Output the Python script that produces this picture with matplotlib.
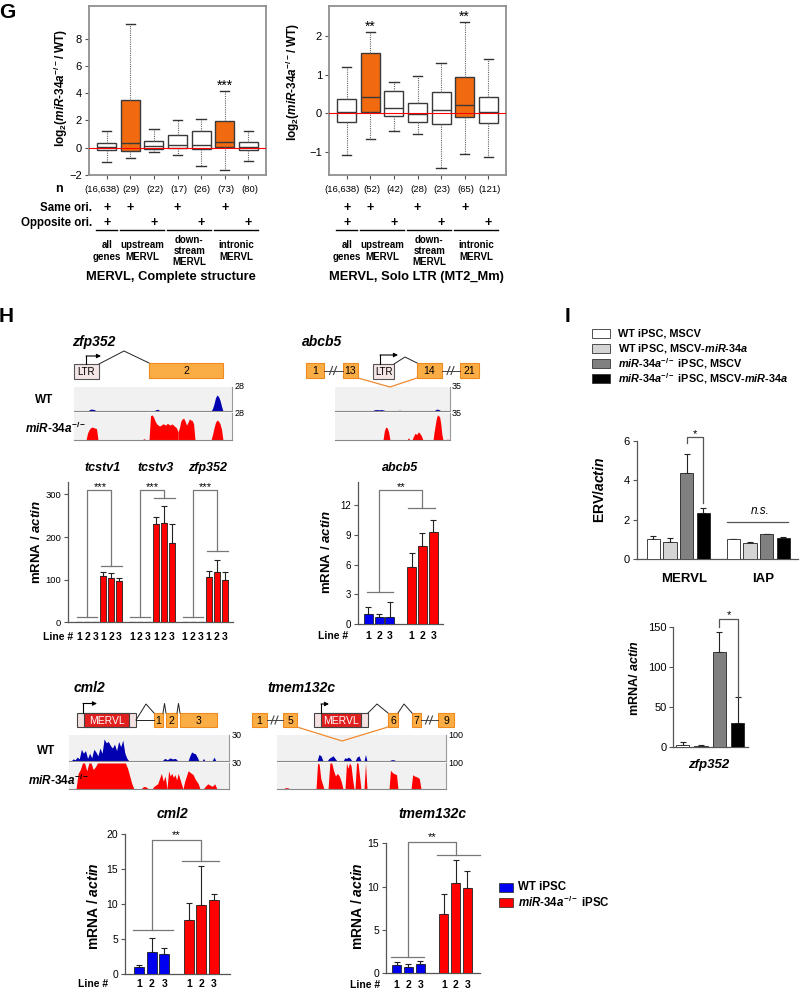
import numpy as np
import matplotlib
matplotlib.use('Agg')
import matplotlib.pyplot as plt
from matplotlib.patches import Rectangle
from matplotlib.transforms import blended_transform_factory as blend

plt.rcParams['font.family'] = ['Liberation Sans', 'DejaVu Sans']
plt.rcParams['mathtext.fontset'] = 'custom'
plt.rcParams['mathtext.rm'] = 'Liberation Sans:bold'
plt.rcParams['mathtext.it'] = 'Liberation Sans:italic:bold'
plt.rcParams['mathtext.bf'] = 'Liberation Sans:bold'

W, H = 800, 991
ORANGE = '#f26a10'
RED = '#ff0000'
BLUE = '#0000f0'
EXON = '#fbad45'
EXON_EDGE = '#ee8a20'
KO = r'$\mathit{miR}$-$\mathit{34a}^{-/-}$'

# ---------------- panel G : box plots ----------------
box_pos = [1, 2, 3, 4, 5, 6, 7]
box_hilite = [0, 1, 0, 0, 0, 1, 0]
same_ori = [1, 1, 0, 1, 0, 1, 0]
opp_ori = [1, 0, 1, 0, 1, 0, 1]
box_groups = [(1, 1, 'all\ngenes'), (2, 3, 'upstream\nMERVL'),
              (4, 5, 'down-\nstream\nMERVL'), (6, 7, 'intronic\nMERVL')]

full_n = ['(16,638)', '(29)', '(22)', '(17)', '(26)', '(73)', '(80)']
full_lo = [-1.08, -0.76, -0.3, -0.55, -1.37, -1.6, -1.0]
full_q1 = [-0.2, -0.27, -0.1, -0.05, -0.1, 0.07, -0.15]
full_med = [0.05, 0.35, 0.1, 0.2, 0.2, 0.4, 0.05]
full_q3 = [0.35, 3.5, 0.47, 0.9, 1.2, 1.95, 0.4]
full_hi = [1.2, 9.1, 1.4, 2.0, 2.1, 4.15, 1.25]
full_stars = [(6, '***')]

solo_n = ['(16,638)', '(52)', '(42)', '(28)', '(23)', '(65)', '(121)']
solo_lo = [-1.07, -0.67, -0.45, -0.52, -1.42, -1.04, -1.13]
solo_q1 = [-0.22, 0.04, -0.06, -0.21, -0.28, -0.09, -0.26]
solo_med = [0.03, 0.41, 0.15, -0.02, 0.08, 0.21, 0.03]
solo_q3 = [0.36, 1.55, 0.57, 0.27, 0.55, 0.93, 0.43]
solo_hi = [1.2, 2.09, 0.8, 0.96, 1.31, 2.35, 1.41]
solo_stars = [(2, '**'), (6, '**')]

# ---------------- panel H : qPCR bars ----------------
line_ids = ['1', '2', '3', '1', '2', '3']
tc_genes = ['tcstv1', 'tcstv3', 'zfp352']
tc_wt = [[1.5, 1.5, 1.5], [1.5, 1.5, 1.5], [1.5, 1.5, 1.5]]
tc_ko = [[108, 103, 96], [230, 234, 187], [106, 117, 100]]
tc_ko_err = [[10, 13, 9], [17, 38, 43], [15, 30, 17]]
tc_lo, tc_hi, tc_top = 13, [133, 292, 167], 310

ab_wt, ab_wt_err = [1.0, 0.75, 0.7], [0.75, 0.3, 1.5]
ab_ko, ab_ko_err = [5.8, 7.85, 9.3], [1.35, 1.3, 1.15]
ab_lo, ab_hi, ab_top = 3.3, 11.7, 13.5

cm_wt, cm_wt_err = [1.05, 3.14, 2.8], [0.25, 1.95, 0.9]
cm_ko, cm_ko_err = [7.7, 9.86, 10.6], [2.4, 5.5, 0.8]
cm_lo, cm_hi, cm_top = 6.3, 16.1, 19.1

tm_wt, tm_wt_err = [0.96, 0.7, 1.07], [0.3, 0.37, 0.38]
tm_ko, tm_ko_err = [6.9, 10.45, 9.9], [2.2, 2.65, 1.9]
tm_lo, tm_hi, tm_top = 1.85, 13.7, 15.1

# read-coverage islands: (start, end, relative heights)
zfp_wt_cov = [(88, 96, [0, .06, .08, .07, .06, 0]), (154, 160, [0, .06, .07, 0]),
              (211, 223, [0, .1, .3, .55, .67, .6, .45, .2, 0])]
zfp_ko_cov = [(86, 98, [0, .25, .38, .45, .48, .46, .44, .42, 0]), (142, 146, [0, .05, 0]),
              (149, 178, [0, .9, .93, .85, .7, .6, .55, .52, .55, .6, .58, .55, .62, .58,
                          .55, .6, .55, .5, .45, .3]),
              (178, 195, [.3, .45, .7, .78, .81, .7, .55, .65, .78, .74, .72, .6, 0]),
              (211, 223, [0, .2, .45, .65, .74, .7, .6, .4, 0])]
ab_wt_cov = [(372, 386, [0, .05, .06, .05, .06, .04, 0]), (398, 401, [0, .04, 0]),
             (434, 441, [0, .06, .08, .05, 0])]
ab_ko_cov = [(383, 390, [0, .35, .48, .45, .3, 0]), (407, 410, [0, .08, 0]),
             (412, 423, [0, .15, .25, .2, .3, .25, .15, 0]),
             (433, 443, [0, .3, .55, .8, .93, .9, .85, .6, .2, 0]), (446, 449, [0, .04, 0])]
cm_wt_cov = [(71, 129, [0, .08, .05, .15, .08, .45, .3, .4, .1, .3, .12, .45, .35, .2, .5,
                        .3, .85, .7, .75, .6, .5, .65, .4, .75, .55, .8, .3, .1, 0]),
             (162, 178, [0, .1, .05, .12, .08, .1, 0]), (188, 199, [0, .2, .35, .3, .28, .15, 0]),
             (202, 205, [0, .1, 0]), (212, 216, [0, .15, 0])]
cm_ko_cov = [(76, 134, [0, .6, .75, 1, 1, .7, 1, 1, .75, .85, 1, 1, 1, 1, 1, 1, 1, 1, 1, 1,
                        1, 1, 1, 1, .8, .5, .2, 0]),
             (141, 149, [0, .08, .1, .05, 0]), (152, 167, [0, .1, .15, .2, .4, .6, .3, .5, 0]),
             (167, 183, [0, .7, .5, .6, .45, .55, .35, .6, .4, .2, 0]),
             (183, 200, [0, .3, .5, .7, .65, .6, .55, .4, .3, .2, 0]),
             (203, 217, [0, .1, .2, .15, .1, .2, 0])]
tm_wt_cov = [(317, 323, [0, .25, .2, 0]), (327, 337, [0, .1, .15, .2, .1, 0]),
             (343, 352, [0, .12, .1, .15, .1, 0]), (355, 361, [0, .15, .2, 0]),
             (364, 367, [0, .25, 0]), (389, 396, [0, .05, .05, 0])]
tm_ko_cov = [(283, 290, [0, .05, .05, 0]), (316, 324, [0, 1, .95, .4, .2, 0]),
             (328, 343, [0, 1, 1, .7, .5, .6, .5, .3, 0]), (345, 354, [0, 1, .8, 1, .9, .4, 0]),
             (355, 361, [0, 1, 1, .5, 0]), (364, 367, [0, 1, 0]),
             (389, 398, [0, .72, .65, .6, .58, .55, 0]), (411, 421, [0, .55, .5, .48, .45, .4, 0])]

# ---------------- panel I ----------------
i_labels = ['WT iPSC, MSCV', r'WT iPSC, MSCV-$\mathit{miR}$-$\mathit{34a}$',
            KO + ' iPSC, MSCV', KO + r' iPSC, MSCV-$\mathit{miR}$-$\mathit{34a}$']
i_colors = ['white', '#d4d4d4', '#808080', 'black']
erv_names = ['MERVL', 'IAP']
erv_vals = [[1.0, 0.88, 4.35, 2.33], [1.0, 0.8, 1.25, 1.05]]
erv_err = [[0.18, 0.2, 0.97, 0.25], [0.03, 0.04, 0.04, 0.08]]
zi_vals = [2, 1, 119, 30]
zi_err = [4, 1, 25, 32]

fig = plt.figure(figsize=(W / 100, H / 100), dpi=100)
ov = fig.add_axes([0, 0, 1, 1], zorder=10)
ov.set_xlim(0, W)
ov.set_ylim(H, 0)
ov.axis('off')


def px_axes(x0, y0, x1, y1):
    return fig.add_axes([x0 / W, 1 - y1 / H, (x1 - x0) / W, (y1 - y0) / H])


def star(ax, x, y, txt, off=2, fs=9):
    ax.annotate(txt, (x, y), xytext=(0, off), textcoords='offset points',
                ha='center', va='center', fontsize=fs, annotation_clip=False)


for lx, ly, lt in [(7, 12, 'G'), (6, 317, 'H'), (567, 316, 'I')]:
    ov.text(lx, ly, lt, fontsize=15, fontweight='bold', ha='center', va='center')


# ---------- G ----------
def box_panel(x0, x1, lo, q1, med, q3, hi, ylim, yticks, nlab, stars):
    ax = px_axes(x0, 6, x1, 175)
    stats = [dict(whislo=a, q1=b, med=c, q3=d, whishi=e)
             for a, b, c, d, e in zip(lo, q1, med, q3, hi)]
    art = ax.bxp(stats, positions=box_pos, widths=0.8, showfliers=False, patch_artist=True,
                 boxprops=dict(edgecolor='#3a3a3a', linewidth=1.0),
                 medianprops=dict(color='#3a3a3a', linewidth=1.0),
                 whiskerprops=dict(color='#666', linestyle=(0, (1, 1)), linewidth=0.8),
                 capprops=dict(color='#333', linewidth=1.0))
    for b, h in zip(art['boxes'], box_hilite):
        b.set_facecolor(ORANGE if h else 'white')
    ax.axhline(0, color='red', lw=0.8, zorder=5)
    ax.set_xlim(0.25, 7.75)
    ax.set_ylim(*ylim)
    ax.set_yticks(yticks)
    ax.set_xticks(box_pos)
    ax.set_xticklabels([])
    ax.tick_params(length=3, width=0.8, color='#555', labelsize=8, pad=2)
    for s in ax.spines.values():
        s.set_color('#909090')
        s.set_linewidth(1.3)
    for p, t in stars:
        star(ax, p, hi[p - 1], t, off=4, fs=10)
    tr = blend(ax.transData, ov.transData)
    for k, (p, t) in enumerate(zip(box_pos, nlab)):
        if k == 0:
            ov.text(p + 0.55, 189, t, transform=tr, ha='right', va='center', fontsize=6.8)
        else:
            ov.text(p + 0.05, 189, t, transform=tr, ha='center', va='center', fontsize=6.8)
    for p, s, o in zip(box_pos, same_ori, opp_ori):
        if s:
            ov.text(p, 208, '+', transform=tr, ha='center', va='center', fontsize=9, fontweight='bold')
        if o:
            ov.text(p, 223, '+', transform=tr, ha='center', va='center', fontsize=9, fontweight='bold')
    for a, b, lab in box_groups:
        ov.plot([a - 0.45, b + 0.42], [229.5, 229.5], transform=tr, color='k', lw=1)
        ov.text((a + b) / 2, 251, lab, transform=tr, ha='center', va='center',
                fontsize=7, fontweight='bold', linespacing=1.15)
    return ax


box_panel(89, 266, full_lo, full_q1, full_med, full_q3, full_hi, (-2, 10.4),
          [-2, 0, 2, 4, 6, 8], full_n, full_stars)
box_panel(329, 506, solo_lo, solo_q1, solo_med, solo_q3, solo_hi, (-1.59, 2.77),
          [-1, 0, 1, 2], solo_n, solo_stars)
glab = r'log$_2$($\mathit{miR}$-$\mathit{34a}^{-/-}$/ WT)'
ov.text(61, 88, glab, rotation=90, ha='center', va='center', fontsize=8.5, fontweight='bold')
ov.text(293, 82, glab, rotation=90, ha='center', va='center', fontsize=8.5, fontweight='bold')
ov.text(59, 189, 'n', ha='center', va='center', fontsize=9, fontweight='bold')
ov.text(92, 208, 'Same ori.', ha='right', va='center', fontsize=8.3, fontweight='bold')
ov.text(92, 223, 'Opposite ori.', ha='right', va='center', fontsize=8.3, fontweight='bold')
ov.text(171, 277, 'MERVL, Complete structure', ha='center', va='center', fontsize=9.3, fontweight='bold')
ov.text(416, 277, 'MERVL, Solo LTR (MT2_Mm)', ha='center', va='center', fontsize=9.3, fontweight='bold')


# ---------- H : gene diagrams ----------
def exon(x0, x1, y0, y1, label):
    ov.add_patch(Rectangle((x0, y0), x1 - x0, y1 - y0, fc=EXON, ec=EXON_EDGE, lw=0.8))
    ov.text((x0 + x1) / 2, (y0 + y1) / 2 + 0.5, label, ha='center', va='center', fontsize=7.5)


def ltr(x0, x1, y0, y1):
    ov.add_patch(Rectangle((x0, y0), x1 - x0, y1 - y0, fc='#f4e6e6', ec='#555', lw=0.8))
    ov.text((x0 + x1) / 2, (y0 + y1) / 2 + 0.5, 'LTR', ha='center', va='center', fontsize=7)


def mervl(x0, x1, xi0, xi1, y0, y1):
    ov.add_patch(Rectangle((x0, y0), x1 - x0, y1 - y0, fc='#f4e2e2', ec='#444', lw=0.8))
    ov.add_patch(Rectangle((xi0, y0), xi1 - xi0, y1 - y0, fc='#e01f1f', ec='#444', lw=0.8))
    ov.text((xi0 + xi1) / 2, (y0 + y1) / 2 + 0.5, 'MERVL', ha='center', va='center',
            fontsize=7.5, color='white')


def tss(x, ybase, ytop, xend):
    ov.plot([x, x], [ybase, ytop], color='k', lw=0.8)
    ov.annotate('', xy=(xend, ytop), xytext=(x, ytop),
                arrowprops=dict(arrowstyle='-|>', lw=0.8, color='k', mutation_scale=6,
                                shrinkA=0, shrinkB=0))


def path(pts, color='#222', lw=0.7):
    ov.plot([p[0] for p in pts], [p[1] for p in pts], color=color, lw=lw)


def skip(x0, x1, y):
    ov.plot([x0, x1], [y, y], color='#444', lw=0.7)
    xm = (x0 + x1) / 2
    for dx in (-2.5, 1.5):
        ov.plot([xm + dx - 1.5, xm + dx + 1.5], [y + 4, y - 4], color='#444', lw=0.8)


def track(x0, x1, y0, y1, islands, color, scale):
    ax = px_axes(x0, y0, x1, y1)
    ax.set_facecolor('#f1f1f1')
    for a, b, h in islands:
        ax.fill_between(np.linspace(a, b, len(h)), 0, h, color=color, lw=0)
    ax.set_xlim(x0, x1)
    ax.set_ylim(0, 1)
    ax.set_xticks([])
    ax.set_yticks([])
    ax.spines['top'].set_visible(False)
    ax.spines['left'].set_visible(False)
    ax.spines['right'].set_color('#999')
    ax.spines['bottom'].set_color('#888')
    ax.text(1.015, 1, scale, transform=ax.transAxes, fontsize=6.5, ha='left', va='center')


def track_labels(y_wt, y_ko, x_wt, x_ko):
    ov.text(x_wt, y_wt, 'WT', ha='left', va='center', fontsize=8.5, fontweight='bold')
    ov.text(x_ko, y_ko, KO, ha='left', va='center', fontsize=8.5, fontweight='bold')


def gene_title(x, y, t, fs=10):
    ov.text(x, y, t, ha='left', va='center', fontsize=fs, fontweight='bold', style='italic')


# zfp352
gene_title(72, 342, 'zfp352')
ltr(74, 99, 364, 379)
tss(86, 364, 356, 101)
path([(99, 364), (124, 351), (149, 363)])
exon(149, 223, 363, 378, '2')
track(74, 232, 387, 411, zfp_wt_cov, '#0000b0', '28')
track(74, 232, 413, 440, zfp_ko_cov, RED, '28')
track_labels(400, 428, 35, 25)

# abcb5
gene_title(302, 342, 'abcb5')
for a, b, t in [(306, 324, '1'), (343, 358, '13'), (417, 442, '14'), (460, 479, '21')]:
    exon(a, b, 363, 378, t)
skip(324, 343, 370.5)
skip(442, 460, 370.5)
ltr(373, 394, 364, 379)
tss(380, 364, 355, 398)
path([(394, 364), (405, 357), (417, 363)])
path([(358, 378), (390, 387), (417, 378)], color='#f08a30', lw=0.9)
track(335, 450, 387, 411, ab_wt_cov, '#0000b0', '35')
track(335, 450, 413, 440, ab_ko_cov, RED, '35')

# cml2
gene_title(74, 688, 'cml2')
mervl(77, 136, 84, 129, 713, 727)
tss(83, 713, 703.5, 97)
path([(136, 720), (146, 704), (154, 713)])
path([(136, 720), (154, 720)])
for a, b, t in [(154, 163, '1'), (166, 177, '2'), (180, 217, '3')]:
    exon(a, b, 713, 727, t)
path([(163, 713), (164.5, 703.5), (166, 713)])
path([(177, 713), (178.5, 703.5), (180, 713)])
track(69, 229, 735, 761, cm_wt_cov, '#0000b0', '30')
track(69, 229, 763, 789, cm_ko_cov, RED, '30')
track_labels(751, 780, 37, 28)

# tmem132c
gene_title(267, 688, 'tmem132c')
for a, b, t in [(252, 267, '1'), (283, 297, '5'), (388, 398, '6'), (412, 421, '7'), (438, 454, '9')]:
    exon(a, b, 713, 727, t)
skip(267, 283, 720)
skip(421, 438, 720)
mervl(314, 368, 321, 361, 713, 727)
tss(321, 713, 704, 329)
path([(368, 713), (377, 704), (388, 713)])
path([(398, 713), (404, 704), (412, 713)])
path([(297, 727), (342, 741), (388, 727)], color='#f08a30', lw=0.9)
track(277, 446, 735, 761, tm_wt_cov, '#0000b0', '100')
track(277, 446, 763, 789, tm_ko_cov, RED, '100')


# ---------- bar helpers ----------
def style_bar_axes(ax, ylim, yticks, xlim, fs=7.5):
    ax.set_ylim(*ylim)
    ax.set_xlim(*xlim)
    ax.set_yticks(yticks)
    ax.set_xticks([])
    for s in ('top', 'right'):
        ax.spines[s].set_visible(False)
    for s in ('left', 'bottom'):
        ax.spines[s].set_color('#555')
        ax.spines[s].set_linewidth(0.9)
    ax.tick_params(axis='y', length=3, width=0.8, color='#555', labelsize=fs, pad=2)
    ax.patch.set_alpha(0)


def bars(ax, pos, vals, errs, colors, width):
    ax.bar(pos, vals, width=width, color=colors, edgecolor='#222', linewidth=0.6, zorder=3)
    ax.errorbar(pos, vals, yerr=[np.zeros(len(vals)), errs], fmt='none', ecolor='#222',
                elinewidth=0.8, capsize=2, capthick=0.8, zorder=2)


def bracket(ax, lo_span, y_lo, hi_span, y_hi, xa, xb, y_top, color='#777'):
    kw = dict(color=color, lw=0.9, clip_on=False, zorder=4)
    ax.plot(lo_span, [y_lo, y_lo], **kw)
    ax.plot(hi_span, [y_hi, y_hi], **kw)
    ax.plot([xa, xa, xb, xb], [y_lo, y_top, y_top, y_hi], **kw)


def line_row(ax, pos, y, xlab=None):
    tr = blend(ax.transData, ov.transData)
    for p, t in zip(pos, line_ids):
        ov.text(p, y, t, transform=tr, ha='center', va='center', fontsize=7.5, fontweight='bold')
    if xlab is not None:
        ov.text(xlab, y, 'Line #', ha='right', va='center', fontsize=7.5, fontweight='bold')


def ylab(x, y, txt, fs=10):
    ov.text(x, y, txt, rotation=90, ha='center', va='center', fontsize=fs, fontweight='bold')


MRNA = r'mRNA / $\mathit{actin}$'
pair_colors = [BLUE] * 3 + [RED] * 3

# tcstv1 / tcstv3 / zfp352
ax = px_axes(68, 481.7, 233, 622.3)
tr = blend(ax.transData, ov.transData)
tc_gap = 6.6
for g, gene in enumerate(tc_genes):
    base = g * tc_gap
    pos = base + np.arange(6)
    bars(ax, pos, tc_wt[g] + tc_ko[g], [0, 0, 0] + tc_ko_err[g], pair_colors, 0.75)
    bracket(ax, [base - 0.25, base + 2.25], tc_lo, [base + 2.75, base + 5.4], tc_hi[g],
            base + 1, base + 4, tc_top)
    star(ax, base + 2.6, tc_top, '***', off=2, fs=8)
    ov.text(base + 2.9, 468, gene, transform=tr, ha='center', va='center', fontsize=9,
            fontweight='bold', style='italic')
    line_row(ax, pos, 637, 73 if g == 0 else None)
style_bar_axes(ax, (0, 330), [0, 100, 200, 300], (-1.4, 19.25), fs=6.8)
ylab(37, 542, MRNA, fs=9.5)

# abcb5
pos6 = np.array([0, 1, 2, 4, 5, 6])
ax = px_axes(358, 481.7, 443, 624.3)
bars(ax, pos6, ab_wt + ab_ko, ab_wt_err + ab_ko_err, pair_colors, 0.83)
bracket(ax, [-0.15, 2.3], ab_lo, [3.7, 6.2], ab_hi, 1, 5, ab_top)
star(ax, 3, ab_top, '**', off=2, fs=8)
style_bar_axes(ax, (0, 14.35), [0, 3, 6, 9, 12], (-0.95, 6.9), fs=7)
line_row(ax, pos6, 636, 348)
ov.text(400, 468, 'abcb5', ha='center', va='center', fontsize=9, fontweight='bold', style='italic')
ylab(327, 552, MRNA, fs=9.5)

# cml2
ax = px_axes(125, 834, 230, 974)
bars(ax, pos6, cm_wt + cm_ko, cm_wt_err + cm_ko_err, pair_colors, 0.8)
bracket(ax, [-0.53, 2.74], cm_lo, [3.45, 6.45], cm_hi, 1, 5, cm_top)
star(ax, 3, cm_top, '**', off=4, fs=8)
style_bar_axes(ax, (0, 20), [0, 5, 10, 15, 20], (-1.15, 7.3), fs=7.5)
line_row(ax, pos6, 984, 108)
ov.text(172, 814, 'cml2', ha='center', va='center', fontsize=10, fontweight='bold', style='italic')
ylab(94, 906, MRNA)

# tmem132c
ax = px_axes(386, 843.3, 480, 973.3)
bars(ax, pos6, tm_wt + tm_ko, tm_wt_err + tm_ko_err, pair_colors, 0.76)
bracket(ax, [-0.48, 2.35], tm_lo, [3.44, 7.06], tm_hi, 1, 5, tm_top)
star(ax, 3, tm_top, '**', off=4, fs=8)
style_bar_axes(ax, (0, 15), [0, 5, 10, 15], (-0.9, 7.06), fs=7.5)
line_row(ax, pos6, 985, 380)
ov.text(432, 814, 'tmem132c', ha='center', va='center', fontsize=10, fontweight='bold', style='italic')
ylab(358, 906, MRNA)

# bottom legend
for yy, c, t in [(887, BLUE, 'WT iPSC'), (902, RED, KO + ' iPSC')]:
    ov.add_patch(Rectangle((499, yy - 4.5), 14, 9, fc=c, ec='#222', lw=0.5))
    ov.text(518, yy, t, ha='left', va='center', fontsize=8.3, fontweight='bold')

# ---------- I ----------
for k, (c, t) in enumerate(zip(i_colors, i_labels)):
    yy = 333 + k * 15.3
    ov.add_patch(Rectangle((592, yy - 4.5), 18, 9, fc=c, ec='#333', lw=0.6))
    ov.text(618, yy, t, ha='left', va='center', fontsize=7.8, fontweight='bold')

ax = px_axes(637, 440.7, 798, 559)
erv_base = [0, 4.8]
for g, name in enumerate(erv_names):
    pos = erv_base[g] + np.arange(4)
    bars(ax, pos, erv_vals[g], erv_err[g], i_colors, 0.8)
kw = dict(color='#555', lw=0.9, clip_on=False)
ax.plot([2, 2, 3, 3], [5.89, 6.18, 6.18, 2.83], **kw)
star(ax, 2.5, 6.18, '*', off=2.5, fs=8)
ax.plot([4.4, 8.06], [1.89, 1.89], **kw)
ax.text(6.4, 2.45, 'n.s.', ha='center', va='center', fontsize=8.5, style='italic')
style_bar_axes(ax, (0, 6), [0, 2, 4, 6], (-0.98, 8.68), fs=8)
ov.text(684, 579, 'MERVL', ha='center', va='center', fontsize=9.5, fontweight='bold')
ov.text(763, 579, 'IAP', ha='center', va='center', fontsize=9.5, fontweight='bold')
ylab(600, 490, r'ERV/$\mathit{actin}$')

ax = px_axes(673.3, 627.3, 748.3, 746.7)
bars(ax, np.arange(4), zi_vals, zi_err, i_colors, 0.73)
ax.plot([2, 2, 3, 3], [150.8, 161, 161, 62.8], **kw)
star(ax, 2.5, 161, '*', off=2.5, fs=8)
style_bar_axes(ax, (0, 150), [0, 50, 100, 150], (-0.51, 3.58), fs=8)
ov.text(709, 765, 'zfp352', ha='center', va='center', fontsize=9.5, fontweight='bold', style='italic')
ylab(635, 678, r'mRNA/ $\mathit{actin}$', fs=9)

fig.savefig('out.png', dpi=100)
